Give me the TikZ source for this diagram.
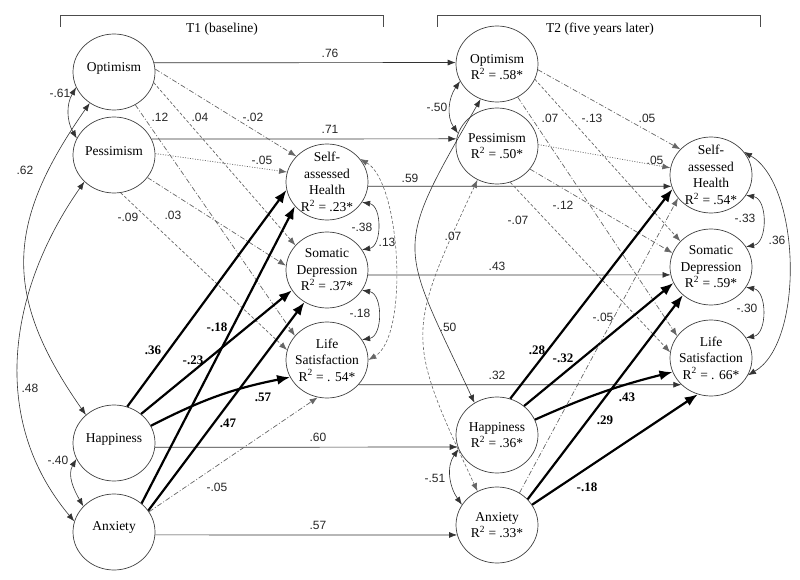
\documentclass[tikz,border=0pt]{standalone}
\usepackage{fontspec}
\setmainfont{Liberation Serif}
\newfontfamily\labsans{Liberation Sans}
\usetikzlibrary{shapes.geometric,arrows.meta}
\newcommand\mynodefont{\fontsize{13.5}{16.5}\selectfont}
\newcommand\mycoeffont{\labsans\fontsize{12}{14}\selectfont}
\newcommand\myboldcoef{\fontsize{13}{15}\selectfont\bfseries}
\tikzset{
  ell/.style={draw=black!75, ellipse, minimum width=82pt, minimum height=76pt, inner sep=0pt, line width=0.7pt},
  ntext/.style={font=\mynodefont, align=center, inner sep=0pt},
  arr/.style={-{Latex[length=8pt,width=6pt]}, line width=0.7pt, draw=black!80},
  barr/.style={-{Latex[length=13pt,width=10pt]}, line width=2.2pt},
  corr/.style={{Latex[length=8pt,width=6pt]}-{Latex[length=8pt,width=6pt]}, line width=0.6pt, draw=black!80},
  dd/.style={dash pattern=on 5pt off 2pt on 1pt off 2pt, draw=black!60},
  ds/.style={dash pattern=on 3pt off 2pt, draw=black!60},
  dt/.style={dash pattern=on 1pt off 1.5pt, draw=black!60},
  coef/.style={font=\mycoeffont, inner sep=1pt, text=black!85},
  bcoef/.style={font=\myboldcoef, inner sep=1pt},
  brk/.style={line width=0.8pt, draw=black!70},
  ttl/.style={font=\mynodefont, inner sep=1pt}
}
\begin{document}
\begin{tikzpicture}[x=1pt,y=-1pt]
\useasboundingbox (0,0) rectangle (800,580);

% brackets and titles
\draw[brk] (60,27) -- (60,15) -- (383,15) -- (383,27);
\node[ttl] (t1) at (222,29) {T1 (baseline)};
\draw[brk] (437,27) -- (437,15) -- (760,15) -- (760,27);
\node[ttl] (t2) at (600,29) {T2 (five years later)};

% T1 nodes
\node[ell, label={[ntext, yshift=4pt]center:Optimism}] (o1) at (114,72) {};
\node[ell, label={[ntext, yshift=4pt]center:Pessimism}] (p1) at (114,155) {};
\node[ell, label={[ntext, yshift=4pt]center:Happiness}] (ha1) at (114,443) {};
\node[ell, label={[ntext, yshift=5pt]center:Anxiety}] (an1) at (114,532) {};
\node[ell, label={[ntext]center:{Self-\\assessed\\Health\\R\textsuperscript{2} = .23*}}] (h1) at (327,182) {};
\node[ell, label={[ntext]center:{Somatic\\Depression\\R\textsuperscript{2} = .37*}}] (s1) at (327,270) {};
\node[ell, label={[ntext]center:{Life\\Satisfaction\\R\textsuperscript{2} = . 54*}}] (l1) at (327,360) {};

% T2 nodes
\node[ell, label={[ntext, yshift=-3pt]center:{Optimism\\R\textsuperscript{2} = .58*}}] (o2) at (497,64) {};
\node[ell, label={[ntext]center:{Pessimism\\R\textsuperscript{2} = .50*}}] (p2) at (497,146) {};
\node[ell, label={[ntext]center:{Happiness\\R\textsuperscript{2} = .36*}}] (ha2) at (497,435) {};
\node[ell, label={[ntext]center:{Anxiety\\R\textsuperscript{2} = .33*}}] (an2) at (497,525) {};
\node[ell, label={[ntext]center:{Self-\\assessed\\Health\\R\textsuperscript{2} = .54*}}] (h2) at (711,175) {};
\node[ell, label={[ntext]center:{Somatic\\Depression\\R\textsuperscript{2} = .59*}}] (s2) at (711,267) {};
\node[ell, label={[ntext]center:{Life\\Satisfaction\\R\textsuperscript{2} = . 66*}}] (l2) at (711,358) {};

% stabilities
\draw[arr] (o1.13) -- (o2.178);
\draw[arr] (p1.23) -- (p2.170);
\draw[arr] (h1.-6) -- (h2.196);
\draw[arr] (s1.-7) -- (s2.191);
\draw[arr] (l1.-38) -- (l2.222);
\draw[arr] (ha1.-6) -- (ha2.197);
\draw[arr] (an1.-4) -- (an2.194);
\node[coef] (k76) at (330,53) {.76};
\node[coef] (k71) at (330,129) {.71};
\node[coef] (k59) at (410,178) {.59};
\node[coef] (k43) at (497,266) {.43};
\node[coef] (k32) at (497,375) {.32};
\node[coef] (k60) at (318,437) {.60};
\node[coef] (k57) at (318,525) {.57};

% T1 personality -> outcomes
\draw[arr,dd] (o1.4) -- (h1.140);
\draw[arr,ds] (o1.-15) -- (s1.142);
\draw[arr,dd] (o1.-57) -- (l1.143);
\draw[arr,dt] (p1.2) -- (h1.166);
\draw[arr,dd] (p1.-34) -- (s1.174);
\draw[arr,ds] (p1.-80) -- (l1.166);
\node[coef] (a1) at (253,117) {-.02};
\node[coef] (a2) at (200,117) {.04};
\node[coef] (a3) at (160,117) {.12};
\node[coef] (a4) at (262,160) {-.05};
\node[coef] (a5) at (173,215) {.03};
\node[coef] (a6) at (128,217) {-.09};

\draw[barr] (ha1.70) -- (h1.191);
\draw[barr] (an1.46) -- (h1.217);
\draw[barr] (ha1.47) -- (s1.210);
\draw[barr] (an1.32) -- (s1.235);
\draw[barr] (ha1.25) to[bend left=8] (l1.205);
\draw[arr,dd] (an1.30) -- (l1.256);
\node[bcoef] (b1) at (153,350) {.36};
\node[bcoef] (b2) at (193,360) {-.23};
\node[bcoef] (b3) at (217,327) {-.18};
\node[bcoef] (b4) at (228,423) {.47};
\node[bcoef] (b5) at (263,397) {.57};
\node[coef] (b6) at (217,487) {-.05};

% T1 correlations
\draw[corr] (h1.-30) to[out=-10,in=10,looseness=1.1] (s1.30);
\draw[corr] (s1.-30) to[out=-10,in=10,looseness=1.1] (l1.30);
\draw[corr,ds] (h1.35) to[out=-30,in=30,looseness=0.6] (l1.0);
\node[coef] (r1) at (362,227) {-.38};
\node[coef] (r2) at (387,242) {.13};
\node[coef] (r3) at (360,313) {-.18};

\draw[corr] (o1.202) to[out=240,in=120] (p1.156);
\draw[corr] (ha1.203) to[out=240,in=120] (an1.140);
\draw[corr] (o1.232) to[out=235,in=125,looseness=1.2] (ha1.135);
\draw[corr] (p1.222) to[out=235,in=130] (an1.165);
\node[coef] (r4) at (60,93) {-.61};
\node[coef] (r5) at (58,460) {-.40};
\node[coef] (r6) at (25,170) {.62};
\node[coef] (r7) at (30,388) {.48};

% T2 personality -> outcomes
\draw[arr,dd] (o2.-8) -- (h2.140);
\draw[arr,ds] (o2.-22) -- (s2.140);
\draw[arr,dd] (o2.-58) -- (l2.147);
\draw[arr,dt] (p2.2) -- (h2.170);
\draw[arr,dd] (p2.-35) -- (s2.160);
\draw[arr,ds] (p2.-70) -- (l2.172);
\node[coef] (c1) at (647,118) {.05};
\node[coef] (c2) at (592,118) {-.13};
\node[coef] (c3) at (550,118) {.07};
\node[coef] (c4) at (655,160) {.05};
\node[coef] (c5) at (563,205) {-.12};
\node[coef] (c6) at (518,220) {-.07};

\draw[barr] (ha2.70) -- (h2.200);
\draw[barr] (ha2.47) -- (s2.203);
\draw[barr] (ha2.22) to[bend left=5] (l2.200);
\draw[barr] (an2.40) -- (s2.225);
\draw[barr] (an2.30) -- (l2.250);
\draw[arr,dd] (an2.55) -- (h2.215);
\node[bcoef] (d1) at (537,350) {.28};
\node[bcoef] (d2) at (563,358) {-.32};
\node[bcoef] (d3) at (627,397) {.43};
\node[bcoef] (d4) at (605,420) {.29};
\node[bcoef] (d5) at (587,487) {-.18};
\node[coef] (d6) at (603,317) {-.05};

% T2 correlations
\draw[corr] (h2.-30) to[out=-10,in=10,looseness=1.1] (s2.30);
\draw[corr] (s2.-30) to[out=-10,in=10,looseness=1.1] (l2.30);
\draw[corr] (h2.35) to[out=-30,in=30,looseness=0.75] (l2.-25);
\node[coef] (e1) at (745,218) {-.33};
\node[coef] (e2) at (747,308) {-.30};
\node[coef] (e3) at (777,240) {.36};

\draw[corr] (o2.205) to[out=235,in=125] (p2.162);
\draw[corr] (ha2.200) to[out=235,in=125] (an2.150);
\draw[corr] (o2.245) to[out=240,in=115,looseness=1.5] (ha2.125);
\draw[corr,ds] (p2.240) to[out=245,in=115,looseness=1.4] (an2.120);
\node[coef] (e4) at (437,107) {-.50};
\node[coef] (e5) at (435,478) {-.51};
\node[coef] (e6) at (448,327) {.50};
\node[coef] (e7) at (453,236) {.07};
\end{tikzpicture}
\end{document}
